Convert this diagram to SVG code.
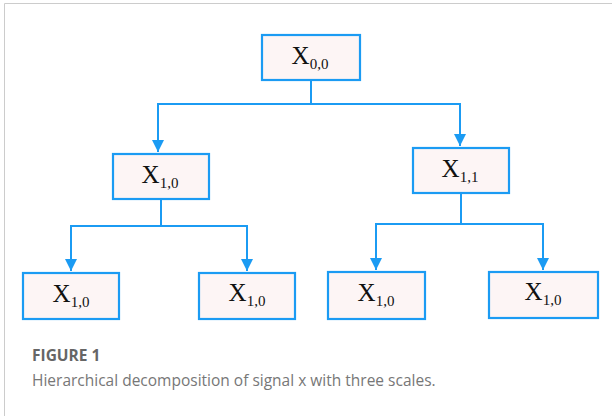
<svg xmlns="http://www.w3.org/2000/svg" width="612" height="416" viewBox="0 0 612 416">
<defs>
<marker id="ah" viewBox="0 0 10 10" refX="10" refY="5" markerWidth="6" markerHeight="6" markerUnits="strokeWidth" orient="auto">
<path d="M0,0 L10,5 L0,10 z" fill="#1B9BF3"/>
</marker>
</defs>
<style>
.box{fill:#FDF5F5;stroke:#1B9BF3;stroke-width:2.2}
.lbl{font-family:"Liberation Serif",serif;font-size:25px;fill:#111}
.sub{font-size:15px}
.con{fill:none;stroke:#1B9BF3;stroke-width:2}
.cap1{font-family:"Open Sans","Noto Sans",sans-serif;font-size:15.5px;font-weight:bold;fill:#666}
.cap2{font-family:"Open Sans","Noto Sans",sans-serif;font-size:15.5px;fill:#777}
</style>
<rect width="612" height="416" fill="#fff"/>
<path d="M4.5,416 V3.5 H612" fill="none" stroke="#ccc" stroke-width="1"/>
<g id="connectors">
<path class="con" d="M311,80 V104 H158 V152" marker-end="url(#ah)"/>
<path class="con" d="M311,104 H460 V146" marker-end="url(#ah)"/>
<path class="con" d="M161,199 V226 H71 V271" marker-end="url(#ah)"/>
<path class="con" d="M161,226 H247 V271" marker-end="url(#ah)"/>
<path class="con" d="M461,193 V224 H376 V270" marker-end="url(#ah)"/>
<path class="con" d="M461,224 H543 V270" marker-end="url(#ah)"/>
</g>
<g id="n00"><rect class="box" x="262" y="35" width="98" height="45"/><text class="lbl" x="310" y="64" text-anchor="middle">X<tspan class="sub" dy="5">0,0</tspan></text></g>
<g id="n10"><rect class="box" x="113" y="154" width="96" height="45"/><text class="lbl" x="160" y="183" text-anchor="middle">X<tspan class="sub" dy="5">1,0</tspan></text></g>
<g id="n11"><rect class="box" x="413" y="148" width="96" height="45"/><text class="lbl" x="460" y="177" text-anchor="middle">X<tspan class="sub" dy="5">1,1</tspan></text></g>
<g id="n20"><rect class="box" x="23" y="273" width="96" height="46"/><text class="lbl" x="71" y="302" text-anchor="middle">X<tspan class="sub" dy="5">1,0</tspan></text></g>
<g id="n21"><rect class="box" x="199" y="273" width="96" height="46"/><text class="lbl" x="247" y="301" text-anchor="middle">X<tspan class="sub" dy="5">1,0</tspan></text></g>
<g id="n22"><rect class="box" x="328" y="272" width="97" height="47"/><text class="lbl" x="376" y="301" text-anchor="middle">X<tspan class="sub" dy="5">1,0</tspan></text></g>
<g id="n23"><rect class="box" x="489" y="272" width="109" height="46"/><text class="lbl" x="543" y="300" text-anchor="middle">X<tspan class="sub" dy="5">1,0</tspan></text></g>
<text class="cap1" x="32" y="361">FIGURE 1</text>
<text class="cap2" x="32" y="386">Hierarchical decomposition of signal x with three scales.</text>
</svg>
